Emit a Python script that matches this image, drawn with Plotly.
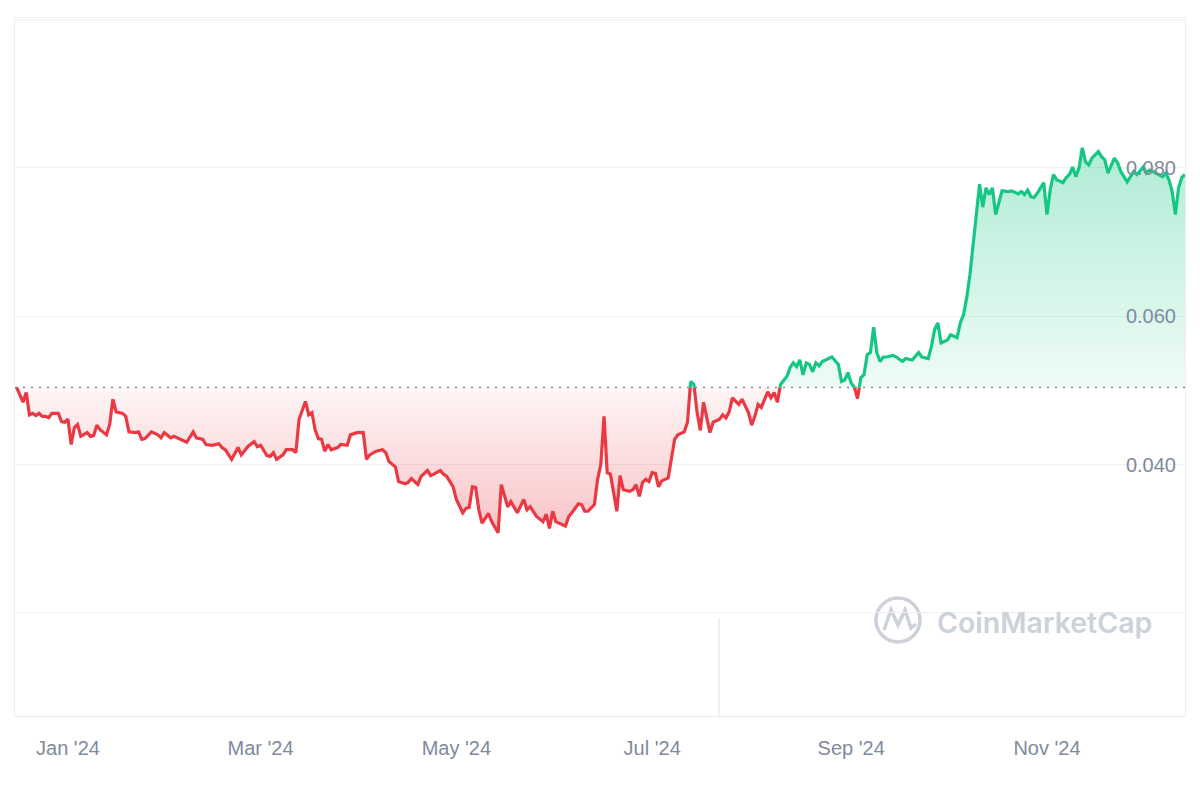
import numpy as np
import pandas as pd
import plotly.graph_objects as go

# ---------------- data ----------------
origin_date = "2024-01-01"
day_offsets = [
    -16, -14, -13, -12, -11, -10, -9, -8, -7, -6, -5, -3, -2, -1, 0, 1, 2, 3, 4, 5,
    6, 7, 8, 9, 10, 12, 13, 14, 15, 17, 18, 19, 21, 22, 23, 24, 26, 28, 29, 30,
    32, 33, 35, 37, 39, 40, 42, 43, 45, 47, 48, 49, 51, 53, 54, 56, 58, 59, 60, 62,
    63, 64, 65, 67, 68, 70, 71, 72, 74, 75, 76, 77, 78, 79, 80, 81, 82, 84, 85, 87,
    88, 90, 92, 93, 94, 96, 98, 99, 100, 101, 102, 103, 105, 106, 107, 109, 110, 112, 113, 114,
    116, 117, 118, 120, 121, 123, 124, 125, 126, 127, 128, 129, 131, 132, 134, 135, 137, 138, 140, 142,
    143, 144, 146, 148, 149, 150, 151, 152, 154, 155, 156, 157, 159, 160, 161, 162, 164, 165, 166, 167,
    168, 169, 171, 172, 173, 175, 176, 177, 178, 179, 180, 181, 182, 183, 184, 185, 187, 188, 189, 190,
    192, 193, 194, 195, 196, 197, 198, 200, 201, 203, 204, 205, 206, 207, 209, 210, 212, 213, 214, 215,
    216, 218, 219, 220, 221, 222, 224, 225, 226, 227, 228, 229, 230, 231, 232, 233, 234, 235, 237, 238,
    240, 241, 242, 243, 244, 245, 246, 247, 248, 249, 250, 251, 252, 253, 254, 255, 257, 258, 260, 261,
    263, 265, 266, 268, 269, 270, 271, 272, 274, 275, 277, 278, 279, 280, 281, 282, 283, 284, 285, 286,
    287, 288, 289, 290, 291, 293, 294, 296, 297, 298, 299, 300, 301, 302, 304, 305, 306, 307, 308, 310,
    311, 312, 313, 314, 315, 316, 317, 318, 319, 321, 322, 323, 324, 326, 327, 328, 329, 330, 331, 332,
    333, 335, 336, 337, 338, 339, 340, 341, 342, 343, 344, 345, 346, 347, 348,
]
prices = [
    0.0504, 0.0484, 0.0497, 0.0467, 0.0469, 0.0466, 0.0469, 0.0465, 0.0465, 0.0463, 0.0469, 0.0469, 0.0458, 0.0457, 0.0461, 0.0427, 0.0450, 0.0454, 0.0438, 0.0440,
    0.0443, 0.0438, 0.0439, 0.0453, 0.0447, 0.0440, 0.0454, 0.0488, 0.0471, 0.0469, 0.0465, 0.0444, 0.0443, 0.0444, 0.0434, 0.0435, 0.0444, 0.0440, 0.0436, 0.0443,
    0.0436, 0.0438, 0.0434, 0.0430, 0.0444, 0.0436, 0.0434, 0.0427, 0.0426, 0.0428, 0.0423, 0.0420, 0.0407, 0.0423, 0.0413, 0.0424, 0.0431, 0.0424, 0.0426, 0.0412,
    0.0411, 0.0416, 0.0407, 0.0413, 0.0420, 0.0420, 0.0416, 0.0461, 0.0485, 0.0467, 0.0470, 0.0447, 0.0435, 0.0434, 0.0418, 0.0427, 0.0420, 0.0423, 0.0427, 0.0426,
    0.0440, 0.0443, 0.0443, 0.0407, 0.0413, 0.0418, 0.0420, 0.0416, 0.0404, 0.0401, 0.0397, 0.0377, 0.0374, 0.0376, 0.0381, 0.0373, 0.0384, 0.0392, 0.0385, 0.0387,
    0.0392, 0.0387, 0.0384, 0.0370, 0.0353, 0.0335, 0.0341, 0.0342, 0.0370, 0.0369, 0.0339, 0.0321, 0.0334, 0.0323, 0.0308, 0.0373, 0.0343, 0.0350, 0.0335, 0.0353,
    0.0339, 0.0343, 0.0330, 0.0323, 0.0333, 0.0314, 0.0337, 0.0323, 0.0319, 0.0317, 0.0330, 0.0335, 0.0347, 0.0346, 0.0337, 0.0337, 0.0346, 0.0380, 0.0400, 0.0465,
    0.0389, 0.0387, 0.0337, 0.0385, 0.0366, 0.0364, 0.0366, 0.0373, 0.0357, 0.0376, 0.0380, 0.0377, 0.0389, 0.0388, 0.0370, 0.0378, 0.0382, 0.0407, 0.0434, 0.0440,
    0.0444, 0.0457, 0.0512, 0.0508, 0.0470, 0.0446, 0.0484, 0.0443, 0.0457, 0.0461, 0.0467, 0.0463, 0.0471, 0.0490, 0.0481, 0.0488, 0.0470, 0.0453, 0.0465, 0.0481,
    0.0477, 0.0498, 0.0490, 0.0497, 0.0484, 0.0508, 0.0519, 0.0531, 0.0537, 0.0532, 0.0541, 0.0521, 0.0537, 0.0535, 0.0525, 0.0537, 0.0533, 0.0539, 0.0543, 0.0545,
    0.0535, 0.0512, 0.0514, 0.0524, 0.0510, 0.0504, 0.0489, 0.0517, 0.0521, 0.0548, 0.0551, 0.0585, 0.0551, 0.0539, 0.0545, 0.0545, 0.0547, 0.0545, 0.0539, 0.0543,
    0.0541, 0.0551, 0.0545, 0.0543, 0.0559, 0.0582, 0.0591, 0.0564, 0.0568, 0.0575, 0.0571, 0.0591, 0.0602, 0.0625, 0.0656, 0.0696, 0.0741, 0.0778, 0.0747, 0.0773,
    0.0764, 0.0773, 0.0737, 0.0754, 0.0769, 0.0768, 0.0769, 0.0765, 0.0768, 0.0764, 0.0770, 0.0761, 0.0760, 0.0766, 0.0780, 0.0737, 0.0770, 0.0791, 0.0784, 0.0780,
    0.0787, 0.0791, 0.0801, 0.0788, 0.0800, 0.0827, 0.0808, 0.0804, 0.0813, 0.0822, 0.0815, 0.0811, 0.0793, 0.0813, 0.0807, 0.0795, 0.0787, 0.0781, 0.0788, 0.0795,
    0.0791, 0.0801, 0.0793, 0.0797, 0.0795, 0.0793, 0.0791, 0.0788, 0.0793, 0.0784, 0.0768, 0.0737, 0.0773, 0.0787, 0.0791,
]
volume_dates = ["2024-07-22"]
volumes = [4.2e6]

x_tick_dates = ["2024-01-01", "2024-03-01", "2024-05-01", "2024-07-01", "2024-09-01", "2024-11-01"]
x_tick_labels = ["Jan '24", "Mar '24", "May '24", "Jul '24", "Sep '24", "Nov '24"]
y_tick_values = [0.02, 0.04, 0.06, 0.08, 0.10]
y_tick_labels = ["", "0.040", "0.060", "0.080", ""]

# ---------------- styling ----------------
GREEN = "#16c784"
RED = "#ea3943"
GRID = "#eff1f4"
TEXT = "#808a9d"
FONT = "Liberation Sans, Arial, sans-serif"

W, H = 1200, 800
M_L, M_R, M_T, M_B = 15, 15, 18, 84

# ---------------- prepare series split at the reference (start) price ----------------
base = prices[0]
d = np.array(day_offsets, dtype=float)
p = np.array(prices, dtype=float)
ax, ay = [d[0]], [p[0]]
for i in range(len(d) - 1):
    a, b = p[i] - base, p[i + 1] - base
    if a * b < 0:
        t = a / (a - b)
        ax.append(d[i] + t * (d[i + 1] - d[i]))
        ay.append(base)
    ax.append(d[i + 1])
    ay.append(p[i + 1])
ax = np.array(ax)
ay = np.array(ay)
origin = pd.Timestamp(origin_date)
xd = origin + pd.to_timedelta(ax, unit="D")
xd_list = list(xd)

up_y = np.where(ay >= base - 1e-12, ay, np.nan)
dn_y = np.where(ay <= base + 1e-12, ay, np.nan)

fig = go.Figure()

# green fill (above start price)
fig.add_trace(go.Scatter(
    x=xd_list + xd_list[::-1],
    y=list(np.maximum(ay, base)) + [base] * len(ay),
    mode="lines", line=dict(width=0), fill="toself",
    fillgradient=dict(type="vertical", start=base, stop=float(p.max()),
                      colorscale=[[0, "rgba(22,199,132,0.07)"], [1, "rgba(22,199,132,0.34)"]]),
    hoverinfo="skip", showlegend=False,
))
# red fill (below start price)
fig.add_trace(go.Scatter(
    x=xd_list + xd_list[::-1],
    y=list(np.minimum(ay, base)) + [base] * len(ay),
    mode="lines", line=dict(width=0), fill="toself",
    fillgradient=dict(type="vertical", start=float(p.min()), stop=base,
                      colorscale=[[0, "rgba(234,57,67,0.30)"], [1, "rgba(234,57,67,0.05)"]]),
    hoverinfo="skip", showlegend=False,
))

# volume
fig.add_trace(go.Bar(
    x=pd.to_datetime(volume_dates), y=volumes, yaxis="y2",
    marker=dict(color="#eef0f3", line=dict(width=0)),
    width=0.55 * 86400000, showlegend=False, hoverinfo="skip",
))

# price lines
fig.add_trace(go.Scatter(x=xd_list, y=dn_y, mode="lines",
                         line=dict(color=RED, width=3.2), connectgaps=False, showlegend=False))
fig.add_trace(go.Scatter(x=xd_list, y=up_y, mode="lines",
                         line=dict(color=GREEN, width=3.2), connectgaps=False, showlegend=False))

# dotted reference line at start price
fig.add_shape(type="line", xref="paper", x0=0, x1=1, yref="y", y0=base, y1=base,
              line=dict(color="#7f8795", width=1.5, dash="2px,6px"), layer="above")

# watermark
pw, ph = W - M_L - M_R, H - M_T - M_B


def px(xp, yp):
    return (xp - M_L) / pw, (H - M_B - yp) / ph


wm = "#ccd1da"
cx0, cy0 = px(876, 642)
cx1, cy1 = px(920, 598)
fig.add_shape(type="circle", xref="paper", yref="paper", x0=cx0, y0=cy0, x1=cx1, y1=cy1,
              line=dict(color=wm, width=3.5), layer="below")
pts = [(884, 630), (891, 610), (898, 625), (905, 610), (911, 628), (916, 624)]
path = "M " + " L ".join(f"{px(a, b)[0]:.5f},{px(a, b)[1]:.5f}" for a, b in pts)
fig.add_shape(type="path", xref="paper", yref="paper", path=path,
              line=dict(color=wm, width=3.5), layer="below")
tx, ty = px(935, 622)
fig.add_annotation(text="CoinMarketCap", xref="paper", yref="paper", x=tx, y=ty,
                   xanchor="left", yanchor="middle", showarrow=False,
                   font=dict(family="Inter, Roboto, sans-serif", size=28.5, color=wm, weight=600))

x_start = origin + pd.Timedelta(days=-16.5)
x_end = origin + pd.Timedelta(days=348.0)

fig.update_layout(
    width=W, height=H,
    margin=dict(l=M_L, r=M_R, t=M_T, b=M_B),
    paper_bgcolor="white", plot_bgcolor="white",
    font=dict(family=FONT, color=TEXT, size=20),
    showlegend=False,
    hovermode=False,
    bargap=0,
    xaxis=dict(
        range=[x_start, x_end], type="date",
        tickvals=pd.to_datetime(x_tick_dates), ticktext=x_tick_labels,
        showgrid=False, zeroline=False,
        showline=True, mirror=True, linecolor="#eceef2", linewidth=1,
        ticks="", ticklabelstandoff=14,
        tickfont=dict(family=FONT, size=20, color=TEXT),
    ),
    yaxis=dict(
        range=[0.0061, 0.1002], side="right",
        tickvals=y_tick_values, ticktext=y_tick_labels,
        ticklabelposition="inside", ticks="", ticklabelstandoff=10,
        showgrid=True, gridcolor=GRID, gridwidth=1, zeroline=False,
        showline=True, mirror=True, linecolor="#eceef2", linewidth=1,
        tickfont=dict(family=FONT, size=20, color=TEXT),
    ),
    yaxis2=dict(
        overlaying="y", range=[0, max(volumes) * 698 / 98], visible=False,
        showgrid=False, fixedrange=True,
    ),
)

fig.write_html("out.html")
